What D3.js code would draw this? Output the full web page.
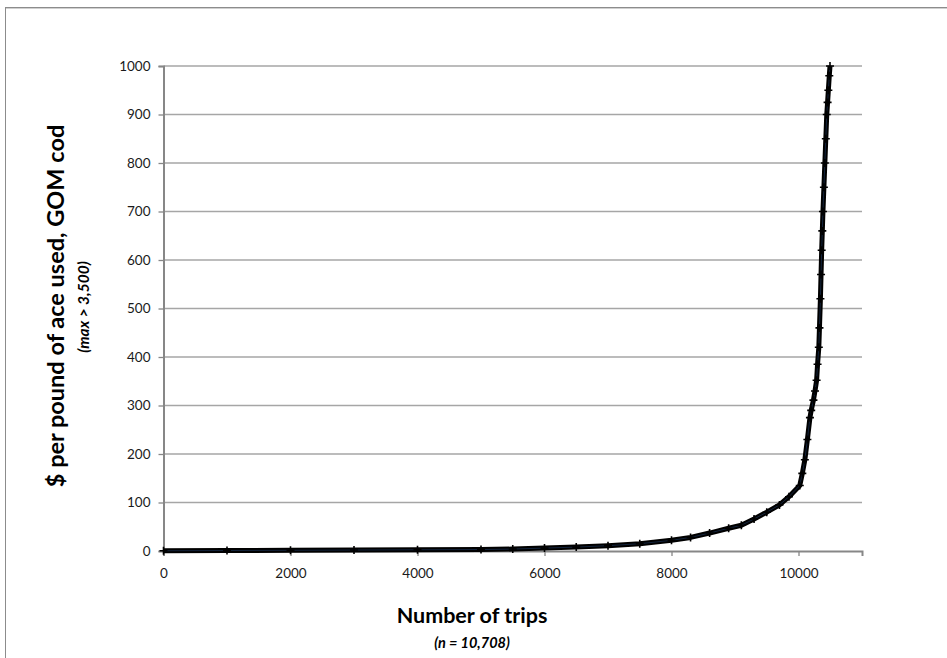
<!DOCTYPE html>
<html>
<head>
<meta charset="utf-8">
<script src="https://cdn.jsdelivr.net/npm/d3@7"></script>
<style>
  html, body { margin: 0; padding: 0; background: #fff; }
  svg { display: block; }
  text { font-family: Lato, "Open Sans", sans-serif; }
</style>
</head>
<body>
<svg id="chart" width="947" height="658"></svg>
<script>
// Data
const trips = [0, 1000, 2000, 3000, 4000, 5000, 5500, 6000, 6500, 7000, 7500, 8000, 8300, 8600, 8900, 9100, 9300, 9500, 9700, 9850, 10020, 10060, 10100, 10140, 10180, 10200, 10235, 10260, 10285, 10300, 10320, 10330, 10345, 10355, 10365, 10375, 10385, 10400, 10415, 10430, 10445, 10458, 10470, 10485, 10496];
const dollarsPerPound = [0.5, 1, 1.5, 2, 2.5, 3, 4, 6, 8, 11, 15, 22, 28, 37, 47, 53, 66, 80, 95, 112, 135, 160, 188, 230, 275, 290, 311, 330, 352, 385, 420, 460, 520, 570, 620, 660, 700, 750, 800, 850, 900, 925, 950, 980, 1000];
const xTicks = [0, 2000, 4000, 6000, 8000, 10000];
const yTicks = [0, 100, 200, 300, 400, 500, 600, 700, 800, 900, 1000];
const yTitle = "$ per pound of ace used, GOM cod";
const ySubtitle = "(max > 3,500)";
const xTitle = "Number of trips";
const xSubtitle = "(n = 10,708)";

(function () {
const svg = d3.select("#chart");

// Outer chart frame
svg.append("rect").attr("x", 5.5).attr("y", 7.5).attr("width", 1000).attr("height", 1000)
  .attr("fill", "none").attr("stroke", "#8c8c8c").attr("stroke-width", 1);
svg.append("line").attr("x1", 6).attr("x2", 947).attr("y1", 8.5).attr("y2", 8.5)
  .attr("stroke", "#d0d0d0").attr("stroke-width", 1);

const pL = 163.5, pR = 862, pT = 66, pB = 551;
const x = d3.scaleLinear().domain([0, 11000]).range([pL, pR]);
const y = d3.scaleLinear().domain([0, 1000]).range([pB, pT]);

// Gridlines
svg.append("g").selectAll("line").data(yTicks.filter(d => d > 0)).join("line")
  .attr("x1", pL).attr("x2", pR)
  .attr("y1", d => y(d)).attr("y2", d => y(d))
  .attr("stroke", "#a6a6a6").attr("stroke-width", 1.3);

// Y axis
const yAxis = svg.append("g").attr("transform", `translate(${pL},0)`)
  .call(d3.axisLeft(y).tickValues(yTicks).tickSize(5).tickPadding(8).tickFormat(d3.format("d")));
yAxis.select(".domain").attr("stroke", "#878787").attr("stroke-width", 2);
yAxis.selectAll(".tick line").attr("stroke", "#878787").attr("stroke-width", 1.3);
yAxis.selectAll(".tick text").attr("font-size", 13.5).attr("fill", "#1a1a1a")
  .attr("font-family", "Lato, sans-serif");

// X axis
const xAxis = svg.append("g").attr("transform", `translate(0,${pB})`)
  .call(d3.axisBottom(x).tickValues(xTicks).tickSize(5).tickPadding(12).tickFormat(d3.format("d")));
xAxis.select(".domain").attr("stroke", "#878787").attr("stroke-width", 2);
xAxis.selectAll(".tick line").attr("stroke", "#878787").attr("stroke-width", 1.3);
xAxis.selectAll(".tick text").attr("font-size", 13.5).attr("fill", "#1a1a1a")
  .attr("font-family", "Lato, sans-serif");

// Series
const pts = trips.map((t, i) => [t, dollarsPerPound[i]]);
svg.append("defs").append("clipPath").attr("id", "plotclip")
  .append("rect").attr("x", pL - 10).attr("y", pT - 6).attr("width", pR - pL + 20).attr("height", pB - pT + 12);
const series = svg.append("g").attr("clip-path", "url(#plotclip)");
const line = d3.line().x(d => x(d[0])).y(d => y(d[1]));
series.append("path").datum(pts)
  .attr("fill", "none").attr("stroke", "#000").attr("stroke-width", 5).attr("stroke-linejoin", "round")
  .attr("d", line);
series.append("path").datum(pts)
  .attr("fill", "none").attr("stroke", "#1f3b63").attr("stroke-width", 1).attr("opacity", 0.6)
  .attr("d", line);
series.selectAll("path.mk").data(pts).join("path").attr("class", "mk")
  .attr("transform", d => `translate(${x(d[0])},${y(d[1])})`)
  .attr("d", "M-4,0H4M0,-4V4")
  .attr("stroke", "#000").attr("stroke-width", 1.6).attr("fill", "none");

// Titles
svg.append("text").attr("transform", "translate(64,306) rotate(-90)")
  .attr("text-anchor", "middle").attr("font-size", 23.5).attr("font-weight", "bold").attr("fill", "#000")
  .text(yTitle);
svg.append("text").attr("transform", "translate(89,307) rotate(-90)")
  .attr("text-anchor", "middle").attr("font-size", 15.5).attr("font-weight", "bold").attr("font-style", "italic").attr("fill", "#000")
  .text(ySubtitle);
svg.append("text").attr("x", 472).attr("y", 623)
  .attr("text-anchor", "middle").attr("font-size", 21.5).attr("font-weight", "bold").attr("fill", "#000")
  .text(xTitle);
svg.append("text").attr("x", 472).attr("y", 648)
  .attr("text-anchor", "middle").attr("font-size", 14.5).attr("font-weight", "bold").attr("font-style", "italic").attr("fill", "#000")
  .text(xSubtitle);
})();
</script>
</body>
</html>
